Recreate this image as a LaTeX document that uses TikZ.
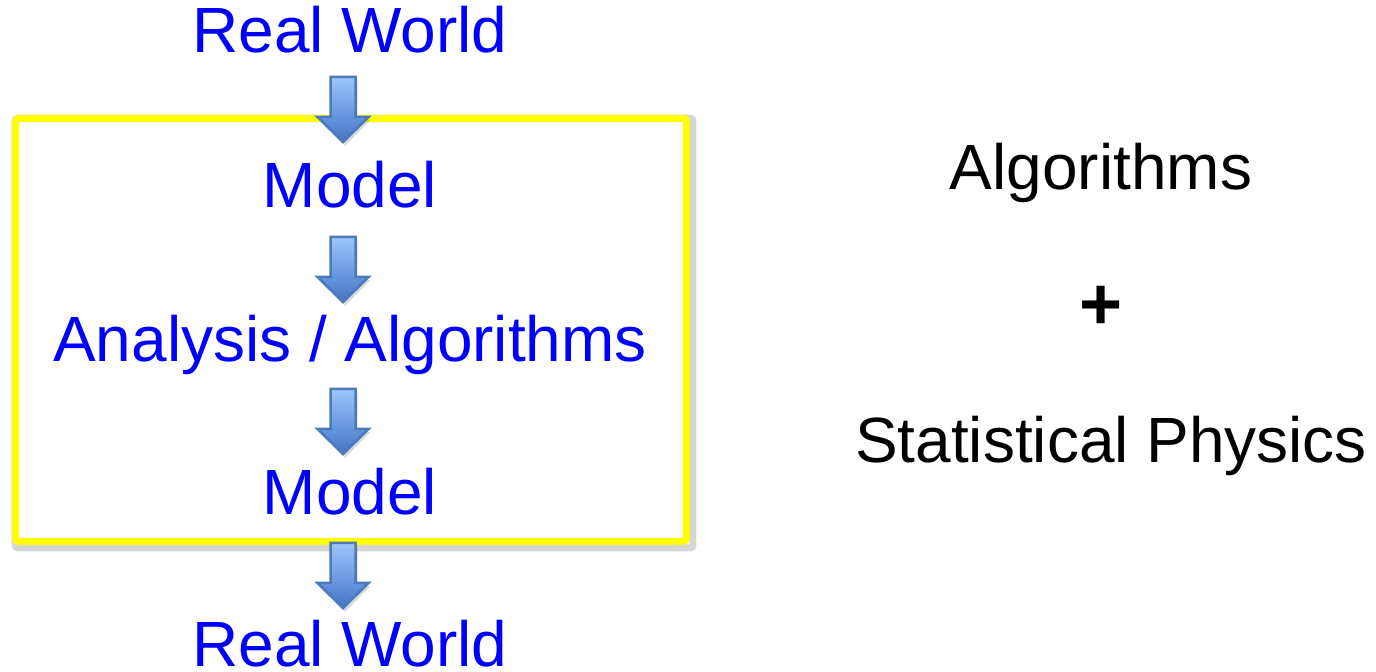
\documentclass[tikz,border=0pt]{standalone}
\usepackage{fontspec}
\setmainfont{Liberation Sans}
\usetikzlibrary{positioning,calc,backgrounds}
\definecolor{sky}{RGB}{158,198,252}
\definecolor{deepsky}{RGB}{66,116,200}
\definecolor{skyline}{RGB}{75,122,188}
\definecolor{lemon}{RGB}{255,255,0}
\tikzset{
  word/.style={font=\fontsize{36.4}{44}\selectfont,inner sep=0pt,anchor=base,text=#1},
  word/.default=blue,
  frame/.style={draw=lemon,line width=0.14cm,rounded corners=0.06cm,
    minimum width=13.42cm,minimum height=8.46cm,inner sep=0pt},
  frame shadow/.style={draw=black,opacity=0.16,line width=0.14cm,rounded corners=0.06cm},
  % block arrow pointing down, top centre at the origin
  pics/down arrow/.style={code={
    \fill[black,opacity=0.14] (-10.5,-3) -- (14.5,-3) -- (14.5,-43) -- (27.5,-43) -- (2,-69) -- (-23.5,-43) -- (-10.5,-43) -- cycle;
    \shade[top color=sky,bottom color=deepsky,draw=skyline,line width=0.05cm]
      (-12.5,0) -- (12.5,0) -- (12.5,-40) -- (25.5,-40) -- (0,-65) -- (-25.5,-40) -- (-12.5,-40) -- cycle;
  }},
}
\begin{document}
\begin{tikzpicture}[x=0.02cm,y=0.02cm]
  \useasboundingbox (0,0) rectangle (1376,672);
  % flow on the left
  \node[frame] (box) at (351,342) {};
  \begin{scope}[on background layer]
    \draw[frame shadow] ($(box.south west)+(3,-3)$) rectangle ($(box.north east)+(3,-3)$);
  \end{scope}
  \node[word] (top) at (350,619) {Real World};
  \node[word] (model1) at (350,464) {Model};
  \node[word] (algo) at (350,310) {Analysis / Algorithms};
  \node[word] (model2) at (350,157) {Model};
  \node[word] (bottom) at (350,5) {Real World};
  \pic (arA) at ($(top.base)+(-7,-24)$) {down arrow};
  \pic (arB) at ($(model1.base)+(-7,-29)$) {down arrow};
  \pic (arC) at ($(algo.base)+(-7,-27)$) {down arrow};
  \pic (arD) at ($(model2.base)+(-7,-28)$) {down arrow};
  % right column
  \node[word=black] (alg) at (1101,482) {Algorithms};
  \node[word=black,anchor=center,font=\fontsize{42}{48}\selectfont\bfseries] (plus) at (1101,364) {+};
  \node[word=black] (phys) at (1111,209) {Statistical Physics};
\end{tikzpicture}
\end{document}
